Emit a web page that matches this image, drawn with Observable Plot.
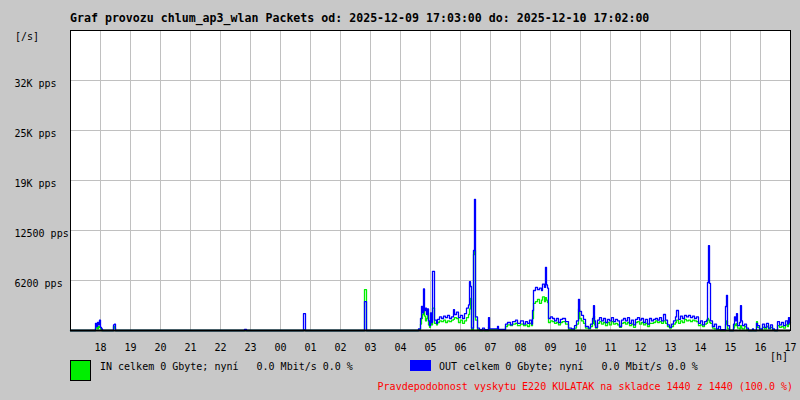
<!DOCTYPE html>
<html><head><meta charset="utf-8">
<script src="https://cdn.jsdelivr.net/npm/d3@7"></script>
<script src="https://cdn.jsdelivr.net/npm/@observablehq/plot@0.6"></script>
<style>
html,body{margin:0;padding:0;background:#c8c8c8;}
#wrap{position:relative;width:800px;height:400px;background:#c8c8c8;overflow:hidden;font-family:"DejaVu Sans Mono",monospace;font-size:10px;color:#000;}
#wrap svg{position:absolute;left:0;top:0;}
.t{position:absolute;white-space:pre;line-height:1;}
</style></head><body><div id="wrap"></div>
<script>
// minutes since 2025-12-09 17:00
const minutes = [0,50,52,54,56,58,60,62,64,86,88,90,348,352,466,470,588,592,
  696,700,702,704,706,708,710,712,714,716,718,720,722,724,728,732,734,738,742,746,750,754,758,762,766,768,772,776,780,784,788,792,796,798,800,802,806,808,810,814,818,824,828,836,838,854,856,
  870,874,880,884,890,894,900,906,910,914,918,922,924,926,930,934,938,942,944,948,950,952,954,956,960,964,968,972,976,980,984,990,996,1002,1008,1012,1016,1018,1022,1026,1030,1036,1040,1044,1046,1048,1050,
  1054,1058,1062,1066,1070,1074,1078,1082,1086,1090,1094,1098,1102,1106,1110,1114,1118,1122,1126,1130,1134,1138,1142,1146,1150,1154,1158,1162,1166,1170,1174,1178,1182,1186,1190,1194,1198,1202,1206,1210,1212,1216,1220,1224,1228,1232,1236,1240,1244,1248,1252,1256,1260,1264,1268,1272,1274,1276,1278,1280,1284,1288,1292,1296,1300,
  1310,1312,1314,1318,1326,1328,1330,1332,1334,1338,1340,1342,1344,1348,1352,1356,1364,1366,1372,1374,1378,1384,1388,1392,1396,1400,1404,1408,1414,1418,1422,1426,1430,1434,1436,1438,1440];
const inPps = [0,300,600,200,500,400,200,0,0,500,300,0,0,0,100,0,5100,0,
  100,800,1500,2000,2500,1800,1200,1500,1900,700,400,1600,700,2800,900,700,1000,1200,1100,1300,1000,1200,1100,1300,1400,1600,1500,1000,1300,900,1200,1600,2000,2700,4000,100,9500,10000,1300,100,0,100,0,400,100,200,50,
  500,700,600,800,900,600,800,600,700,500,900,600,1500,3400,3600,3900,3400,3800,4200,3600,4100,3800,3500,1000,1200,1100,900,1000,700,1000,1100,800,100,100,300,800,2700,1500,1200,900,300,200,500,900,1800,700,300,
  900,1100,800,1000,600,1000,700,1100,800,900,700,400,900,1000,800,1000,600,800,400,1000,1100,800,1000,700,900,500,900,900,1000,1200,1000,1100,900,1200,900,500,300,500,800,1000,1300,900,1200,1000,1400,1200,1300,1100,1300,1200,1100,600,700,500,800,900,1500,1300,1000,900,300,200,100,100,0,
  800,1200,200,0,300,800,600,900,300,200,600,300,200,500,100,0,0,0,1100,400,100,400,200,500,200,400,100,0,600,400,500,300,700,500,1000,800,800];
const outPps = [0,900,500,1000,700,1300,400,200,0,700,800,0,150,0,2100,0,3600,0,
  200,1500,3000,2200,5200,2500,2800,2000,2700,1200,600,2200,1000,7400,1300,900,1400,1700,1500,1800,1600,1900,1500,1700,2600,2000,2300,1600,1900,1500,2100,2800,3200,6100,5500,300,10000,16400,1700,300,100,300,100,1600,200,500,150,
  800,1000,700,1100,1300,900,1200,800,1100,900,1300,800,2500,5000,5400,5100,5300,5000,5800,5400,7900,5700,5300,1500,1700,1500,1200,1500,1000,1400,1500,1100,300,200,600,1200,3900,2400,1900,1400,500,300,800,1500,3100,1200,400,
  1300,1600,1200,1500,1000,1400,1200,1600,1100,1400,1200,500,1300,1500,1200,1600,900,1300,700,1400,1600,1300,1500,1000,1400,800,1500,1200,1400,1500,1300,1600,1200,2000,1300,700,400,800,1200,1700,2500,1400,1800,1500,1900,1700,1900,1600,1800,1500,1700,900,1200,700,1100,1300,6000,10600,5900,1200,500,800,200,500,100,
  3000,4400,600,0,800,1700,1200,2100,600,1000,3100,1200,600,800,300,0,200,0,900,600,200,800,400,900,300,700,200,0,1100,700,1000,600,1200,800,1600,1000,1000];

const hourTicks = [60,120,180,240,300,360,420,480,540,600,660,720,780,840,900,960,1020,1080,1140,1200,1260,1320,1380,1440];
const hourLabels = ["18","19","20","21","22","23","00","01","02","03","04","05","06","07","08","09","10","11","12","13","14","15","16","17"];
const yTicks = [6250,12500,18750,25000,31250];
const yLabels = ["6200 pps","12500 pps","19K pps","25K pps","32K pps"];

const data = minutes.map((m,i)=>({m, inV: inPps[i], outV: outPps[i]}));
const font = '"DejaVu Sans Mono", monospace';

const chart = Plot.plot({
  width: 800, height: 400,
  marginLeft: 70, marginRight: 10, marginTop: 30, marginBottom: 70,
  style: {background: "transparent", fontFamily: font, fontSize: "10px", color: "#000"},
  x: {type: "linear", domain: [0,1440], axis: null, label: null},
  y: {domain: [0,37500], axis: null, label: null},
  marks: [
    Plot.frame({fill: "#fff", stroke: null}),
    Plot.ruleX(hourTicks.slice(0,-1), {stroke: "#c0c0c0", strokeWidth: 1}),
    Plot.ruleY(yTicks, {stroke: "#c0c0c0", strokeWidth: 1}),
    Plot.line(data, {x: "m", y: "inV", stroke: "#00ee00", strokeWidth: 1.3, curve: "step-after"}),
    Plot.line(data, {x: "m", y: "outV", stroke: "#0000ff", strokeWidth: 1.3, curve: "step-after"}),
    Plot.frame({stroke: "#000", strokeWidth: 1}),
    Plot.ruleY([0], {stroke: "#000", strokeWidth: 2}),
    Plot.axisX({ticks: hourTicks, tickFormat: d => hourLabels[hourTicks.indexOf(d)], tickSize: 0, tickPadding: 13, fontSize: 10, label: null}),
    Plot.axisY({ticks: yTicks, tickFormat: d => yLabels[yTicks.indexOf(d)], tickSize: 0, tickPadding: 0, textAnchor: "start", dx: -56, dy: 3, fontSize: 10, label: null})
  ]
});
const wrap = document.getElementById("wrap");
wrap.appendChild(chart);

function txt(s, css){const d=document.createElement("div");d.className="t";d.textContent=s;Object.assign(d.style,css);wrap.appendChild(d);return d;}
txt("Graf provozu chlum_ap3_wlan Packets od: 2025-12-09 17:03:00 do: 2025-12-10 17:02:00", {left:"70px", top:"13px", fontWeight:"bold", fontSize:"11.6px"});
txt("[/s]", {left:"15px", top:"32px"});
txt("[h]", {left:"770px", top:"351.5px"});
const g = document.createElement("div");
Object.assign(g.style,{position:"absolute",left:"70px",top:"360px",width:"21px",height:"21px",boxSizing:"border-box",background:"#00ee00",border:"1px solid #000"});
wrap.appendChild(g);
const b = document.createElement("div");
Object.assign(b.style,{position:"absolute",left:"410px",top:"360px",width:"21px",height:"11px",background:"#0000ff"});
wrap.appendChild(b);
txt("IN celkem 0 Gbyte; nyní   0.0 Mbit/s 0.0 %", {left:"100px", top:"361.5px"});
txt("OUT celkem 0 Gbyte; nyní   0.0 Mbit/s 0.0 %", {left:"439px", top:"361.5px"});
txt("Pravdepodobnost vyskytu E220 KULATAK na skladce 1440 z 1440 (100.0 %)", {right:"7px", top:"381.5px", color:"#ff0000"});
</script></body></html>
